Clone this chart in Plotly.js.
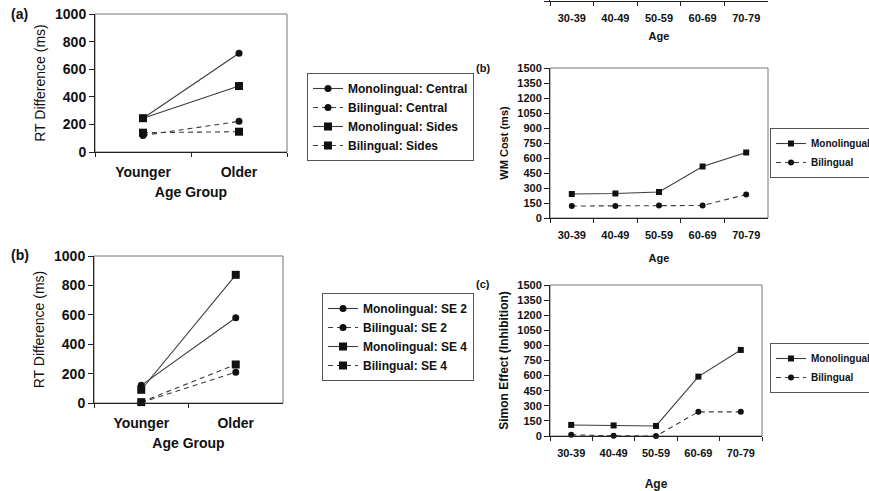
<!DOCTYPE html>
<html><head><meta charset="utf-8">
<script src="https://cdn.plot.ly/plotly-3.0.1.min.js"></script>
<style>html,body{margin:0;padding:0;background:#fff}#chart{width:869px;height:491px}</style>
</head><body><div id="chart"></div>
<script>
// ---------- data ----------
const groupCats = ["Younger", "Older"];
const ageCats = ["30-39", "40-49", "50-59", "60-69", "70-79"];

// Panel (a) left: RT difference
const monoCentral = [245, 715];
const biCentral = [120, 222];
const monoSides = [245, 478];
const biSides = [140, 147];

// Panel (b) left: RT difference
const monoSE2 = [120, 580];
const biSE2 = [3, 210];
const monoSE4 = [90, 872];
const biSE4 = [6, 262];

// Panel (b) right: WM cost
const wmMono = [240, 245, 260, 515, 655];
const wmBi = [120, 120, 125, 125, 235];

// Panel (c) right: Simon effect
const simonMono = [110, 105, 100, 590, 855];
const simonBi = [12, 2, 0, 240, 240];

const yTicksLeft = [0, 200, 400, 600, 800, 1000];
const yTicksRight = [0, 150, 300, 450, 600, 750, 900, 1050, 1200, 1350, 1500];
const topStripTicks = [0];

// ---------- layout helpers ----------
const W = 869, H = 491;
const px = v => v / W;
const py = v => 1 - v / H;
const FONT = '"Liberation Sans", Arial, Helvetica, sans-serif';
const LINE = '#3c3c3c';
const MK = '#111';
const DASH = '5px,4px';

function tr(x, y, name, sym, dash, xa, ya, leg, msize) {
  return {
    type: 'scatter', mode: 'lines+markers', x: x, y: y, name: name,
    xaxis: xa, yaxis: ya, legend: leg, cliponaxis: false,
    line: {color: LINE, width: 1.1, dash: dash ? DASH : 'solid'},
    marker: {symbol: sym, size: msize, color: MK}
  };
}

const data = [
  tr(groupCats, monoCentral, 'Monolingual: Central', 'circle', false, 'x', 'y', 'legend', 7),
  tr(groupCats, biCentral, 'Bilingual: Central', 'circle', true, 'x', 'y', 'legend', 7),
  tr(groupCats, monoSides, 'Monolingual: Sides', 'square', false, 'x', 'y', 'legend', 8),
  tr(groupCats, biSides, 'Bilingual: Sides', 'square', true, 'x', 'y', 'legend', 8),

  tr(groupCats, monoSE2, 'Monolingual: SE 2', 'circle', false, 'x2', 'y2', 'legend2', 7),
  tr(groupCats, biSE2, 'Bilingual: SE 2', 'circle', true, 'x2', 'y2', 'legend2', 7),
  tr(groupCats, monoSE4, 'Monolingual: SE 4', 'square', false, 'x2', 'y2', 'legend2', 8),
  tr(groupCats, biSE4, 'Bilingual: SE 4', 'square', true, 'x2', 'y2', 'legend2', 8),

  tr(ageCats, wmMono, 'Monolingual', 'square', false, 'x3', 'y3', 'legend3', 6),
  tr(ageCats, wmBi, 'Bilingual', 'circle', true, 'x3', 'y3', 'legend3', 6),

  tr(ageCats, simonMono, 'Monolingual', 'square', false, 'x4', 'y4', 'legend4', 6),
  tr(ageCats, simonBi, 'Bilingual', 'circle', true, 'x4', 'y4', 'legend4', 6),

  // cropped panel at the top (only its x axis is visible)
  {type: 'scatter', mode: 'markers', x: ageCats, y: ageCats.map(() => null),
   xaxis: 'x5', yaxis: 'y5', showlegend: false, hoverinfo: 'skip'}
];

function xCat(anchor, domain, cats, fs, standoff, titleText, titleSize, titleStandoff) {
  return {
    anchor: anchor,
    domain: domain, type: 'category', categoryarray: cats, range: [-0.5, cats.length - 0.5],
    showline: true, linecolor: '#222', linewidth: 1, mirror: false,
    ticks: 'outside', tickson: 'boundaries', ticklen: 4, tickcolor: '#222',
    tickfont: {size: fs, weight: 'bold', color: '#111'}, ticklabelstandoff: standoff,
    showgrid: false, zeroline: false, fixedrange: true,
    title: titleText ? {text: titleText, font: {size: titleSize, weight: 'bold', color: '#111'}, standoff: titleStandoff} : undefined
  };
}
function yLin(anchor, domain, range, ticks, fs, titleText, titleSize, titleWeight, titleStandoff) {
  return {
    anchor: anchor,
    domain: domain, range: range, tickvals: ticks, ticktext: ticks.map(String),
    showline: true, linecolor: '#222', linewidth: 1, mirror: false,
    ticks: 'outside', ticklen: 5, tickcolor: '#222',
    tickfont: {size: fs, weight: 'bold', color: '#111'},
    showgrid: false, zeroline: false, fixedrange: true,
    title: titleText ? {text: titleText, font: {size: titleSize, weight: titleWeight, color: '#111'}, standoff: titleStandoff} : undefined
  };
}

function box(xa, ya) {
  return {type: 'rect', xref: xa + ' domain', yref: ya + ' domain', x0: 0, x1: 1, y0: 0, y1: 1,
          line: {color: '#777', width: 1}, layer: 'below'};
}

function legendAt(left, top, fs) {
  return {x: px(left), y: py(top), xref: 'paper', yref: 'paper', xanchor: 'left', yanchor: 'top',
          bordercolor: '#555', borderwidth: 1, bgcolor: '#fff', tracegroupgap: 0,
          font: {size: fs, weight: 'bold', color: '#111', family: FONT}};
}

function label(text, left, centerY, fs) {
  return {text: text, xref: 'paper', yref: 'paper', x: px(left), y: py(centerY),
          xanchor: 'left', yanchor: 'middle', showarrow: false,
          font: {size: fs, weight: 'bold', color: '#111'}};
}

const layout = {
  width: W, height: H, margin: {l: 0, r: 0, t: 0, b: 0, autoexpand: false},
  paper_bgcolor: '#fff', plot_bgcolor: '#fff',
  font: {family: FONT, color: '#111'},
  showlegend: true,

  xaxis: xCat('y', [px(95), px(287)], groupCats, 14, 7, 'Age Group', 14, 8),
  yaxis: yLin('x', [py(152), py(14)], [0, 1000], yTicksLeft, 14, 'RT Difference (ms)', 14, 'normal', 6),

  xaxis2: xCat('y2', [px(94), px(283)], groupCats, 14, 7, 'Age Group', 14, 8),
  yaxis2: yLin('x2', [py(403), py(256)], [0, 1000], yTicksLeft, 14, 'RT Difference (ms)', 14, 'normal', 6),

  xaxis3: xCat('y3', [px(550), px(768)], ageCats, 11, 7, 'Age', 11, 14),
  yaxis3: yLin('x3', [py(218), py(68)], [0, 1500], yTicksRight, 11, 'WM Cost (ms)', 11, 'bold', 6),

  xaxis4: xCat('y4', [px(550), px(762)], ageCats, 11, 7, 'Age', 12, 22),
  yaxis4: yLin('x4', [py(436), py(285)], [0, 1500], yTicksRight, 11, 'Simon Effect (Inhibition)', 12, 'bold', 6),

  xaxis5: xCat('y5', [px(550), px(768)], ageCats, 11, 7, 'Age', 11, 9),
  yaxis5: yLin('x5', [py(1), 1], [0, 1], topStripTicks, 11, '', 11, 'bold', 6),

  legend: legendAt(307, 73, 12),
  legend2: legendAt(322, 293, 12),
  legend3: legendAt(770, 128, 10),
  legend4: legendAt(770, 343, 10),

  shapes: [box('x', 'y'), box('x2', 'y2'), box('x3', 'y3'), box('x4', 'y4')],

  annotations: [
    label('(a)', 9, 14, 14),
    label('(b)', 9, 255, 14),
    label('(b)', 474, 68, 11),
    label('(c)', 474, 284, 11)
  ]
};

Plotly.newPlot('chart', data, layout, {staticPlot: true, displayModeBar: false});
</script>
</body></html>
